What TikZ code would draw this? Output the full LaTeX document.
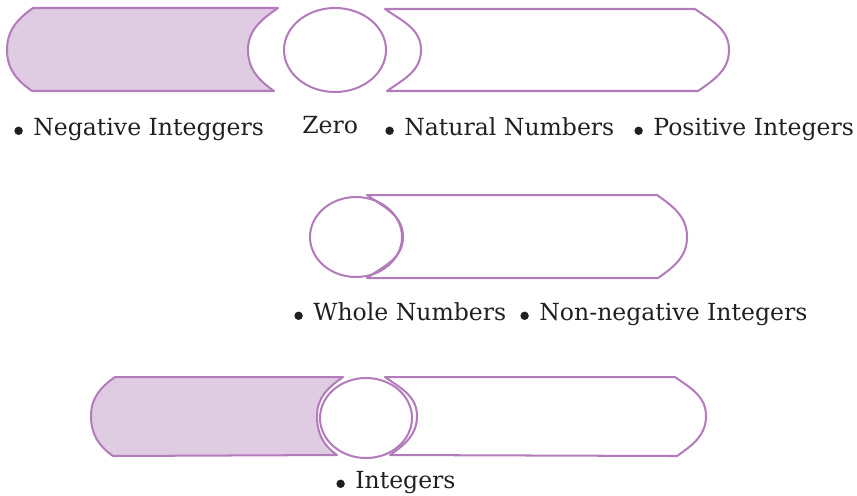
\documentclass[tikz,border=0pt]{standalone}
\usepackage{fontspec}
\setmainfont{DejaVu Serif}
\usetikzlibrary{positioning}
\definecolor{setline}{HTML}{B27BB9}
\definecolor{setfill}{HTML}{DFCCE3}
\definecolor{labink}{HTML}{231F20}

\begin{document}
\begin{tikzpicture}[x=0.02cm,y=-0.02cm,
  every node/.style={font=\fontsize{13.4}{15}\selectfont,text=labink,inner sep=0pt},
  setedge/.style={draw=setline,line width=1.15pt,line join=round},
  negpart/.style={setedge,fill=setfill},
  setname/.style={anchor=base west},
  dot/.style={circle,fill=labink,minimum size=4.8pt,left=5.6pt of #1,yshift=2.4pt}]
 \useasboundingbox (0,0) rectangle (857,495);
 % first row: negative integers, zero, natural numbers
 \draw[negpart] (33,8)--(278,8) to[out=215,in=90] (248,50) to[out=-90,in=145] (274,91)
   --(32,91) to[out=145,in=-90] (7,50) to[out=90,in=215] cycle;
 \draw[setedge] (335,50) ellipse [x radius=51,y radius=42];
 \draw[setedge] (385,9)--(695,9) to[out=-35,in=90] (729,50) to[out=-90,in=35] (698,91)
   --(387,91) to[out=35,in=-90] (421,50) to[out=90,in=-35] cycle;
 \node[setname] (neg) at (33,135) {Negative Integgers};
 \node[dot=neg.base west] (negdot) {};
 \node[setname] (zero) at (302,133) {Zero};
 \node[setname] (nat) at (404,135) {Natural Numbers};
 \node[dot=nat.base west] (natdot) {};
 \node[setname] (pos) at (653,135) {Positive Integers};
 \node[dot=pos.base west] (posdot) {};
 % second row: whole numbers
 \draw[setedge] (367,195)--(657,195) to[out=-35,in=90] (687,237) to[out=-90,in=35] (658,278)
   --(367,278) to[out=35,in=-90] (403,237) to[out=90,in=-35] cycle;
 \draw[setedge] (356,237) ellipse [x radius=46,y radius=40];
 \node[setname] (whole) at (313,320) {Whole Numbers};
 \node[dot=whole.base west] (wholedot) {};
 \node[setname] (nonneg) at (539,320) {Non-negative Integers};
 \node[dot=nonneg.base west] (nonnegdot) {};
 % third row: integers
 \draw[negpart] (115,377)--(343,377) to[out=215,in=90] (317,416) to[out=-90,in=145] (337,455)
   --(113,456) to[out=145,in=-90] (91,416) to[out=90,in=215] cycle;
 \draw[setedge] (385,377)--(675,377) to[out=-35,in=90] (706,416) to[out=-90,in=35] (677,456)
   --(390,455) to[out=35,in=-90] (417,416) to[out=90,in=-35] cycle;
 \draw[setedge,fill=white] (366,418) ellipse [x radius=46,y radius=40];
 \node[setname] (int) at (355,488) {Integers};
 \node[dot=int.base west] (intdot) {};
\end{tikzpicture}
\end{document}
